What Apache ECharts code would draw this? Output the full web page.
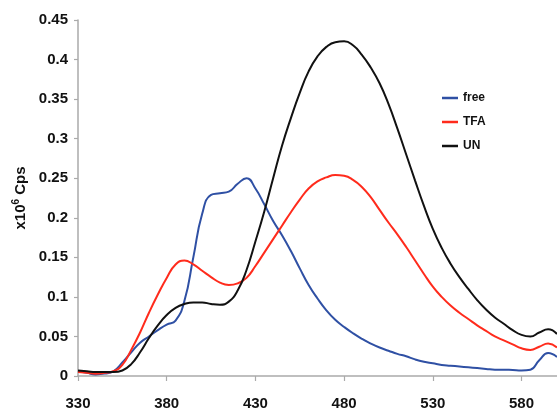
<!DOCTYPE html>
<html>
<head>
<meta charset="utf-8">
<script src="https://cdn.jsdelivr.net/npm/echarts@6/dist/echarts.min.js"></script>
<style>
  html, body { margin: 0; padding: 0; background: #ffffff; }
  #chart { width: 557px; height: 411px; }
</style>
</head>
<body>
<div id="chart"></div>
<script>
// Emission spectra, wavelength in nm, intensity in 10^6 counts per second
const wavelength = [330, 335, 340, 345, 350, 355, 360, 365, 370, 375, 380, 385, 390, 395, 400,
  405, 410, 415, 420, 425, 430, 435, 440, 445, 450, 455, 460, 465, 470, 475, 480, 485, 490,
  495, 500, 505, 510, 515, 520, 525, 530, 535, 540, 545, 550, 555, 560, 565, 570, 575, 580,
  585, 590, 595, 600];

const freeValues = [0.006, 0.004, 0.002, 0.003, 0.006, 0.017, 0.030, 0.042, 0.050, 0.058,
  0.065, 0.070, 0.095, 0.150, 0.205, 0.229, 0.231, 0.233, 0.243, 0.250, 0.237, 0.217, 0.196,
  0.178, 0.158, 0.136, 0.115, 0.098, 0.083, 0.071, 0.062, 0.054, 0.047, 0.041, 0.036, 0.032,
  0.028, 0.025, 0.021, 0.018, 0.016, 0.014, 0.013, 0.012, 0.011, 0.010, 0.009, 0.008, 0.008,
  0.0075, 0.007, 0.008, 0.020, 0.029, 0.024];

const tfaValues = [0.005, 0.004, 0.003, 0.004, 0.006, 0.014, 0.033, 0.055, 0.080, 0.103,
  0.124, 0.141, 0.146, 0.141, 0.133, 0.125, 0.118, 0.115, 0.117, 0.124, 0.139, 0.156, 0.173,
  0.190, 0.207, 0.223, 0.237, 0.246, 0.251, 0.254, 0.253, 0.248, 0.239, 0.226, 0.210, 0.194,
  0.179, 0.163, 0.146, 0.129, 0.113, 0.100, 0.089, 0.080, 0.072, 0.064, 0.057, 0.050, 0.045,
  0.040, 0.035, 0.033, 0.037, 0.041, 0.036];

const unValues = [0.007, 0.006, 0.005, 0.005, 0.005, 0.007, 0.015, 0.030, 0.048, 0.064,
  0.077, 0.086, 0.091, 0.093, 0.093, 0.091, 0.090, 0.094, 0.108, 0.134, 0.170, 0.208, 0.250,
  0.291, 0.326, 0.358, 0.385, 0.404, 0.416, 0.422, 0.423, 0.418, 0.406, 0.390, 0.370, 0.344,
  0.313, 0.280, 0.247, 0.215, 0.186, 0.162, 0.142, 0.125, 0.110, 0.096, 0.084, 0.074, 0.066,
  0.058, 0.052, 0.050, 0.055, 0.059, 0.053];

const seriesNames = ['free', 'TFA', 'UN'];
const seriesColors = ['#2f50a4', '#ff2b1c', '#111111'];
const seriesValues = [freeValues, tfaValues, unValues];

const FONT = '"Liberation Sans", Arial, sans-serif';

const chart = echarts.init(document.getElementById('chart'), null, { renderer: 'canvas' });

chart.setOption({
  backgroundColor: '#ffffff',
  animation: false,
  grid: { left: 78, right: 0, top: 20, bottom: 33, containLabel: false },
  legend: {
    orient: 'vertical',
    left: 437,
    top: 86,
    icon: 'rect',
    itemWidth: 16,
    itemHeight: 2.5,
    itemGap: 10,
    data: seriesNames,
    textStyle: { fontFamily: FONT, fontWeight: 'bold', fontSize: 12, color: '#111', lineHeight: 14 }
  },
  xAxis: {
    type: 'value',
    min: 330,
    max: 600,
    interval: 50,
    splitLine: { show: false },
    axisLine: { lineStyle: { color: '#aaaaaa', width: 1.5 } },
    axisTick: { length: 5, lineStyle: { color: '#aaaaaa', width: 1.2 } },
    axisLabel: {
      showMaxLabel: false,
      margin: 20,
      fontFamily: FONT, fontWeight: 'bold', fontSize: 15, color: '#111'
    }
  },
  yAxis: {
    type: 'value',
    min: 0,
    max: 0.45,
    interval: 0.05,
    name: '{a|x10}{s|6}{a| Cps}',
    nameLocation: 'middle',
    nameGap: 48,
    nameRotate: 90,
    nameTextStyle: {
      rich: {
        a: { fontFamily: FONT, fontWeight: 'bold', fontSize: 15, color: '#111' },
        s: { fontFamily: FONT, fontWeight: 'bold', fontSize: 10, color: '#111', verticalAlign: 'top', padding: [0, 0, 8, 0] }
      }
    },
    splitLine: { show: false },
    axisLine: { show: true, lineStyle: { color: '#aaaaaa', width: 1.5 } },
    axisTick: { show: true, length: 4, lineStyle: { color: '#aaaaaa', width: 1.2 } },
    axisLabel: {
      margin: 10,
      fontFamily: FONT, fontWeight: 'bold', fontSize: 15, color: '#111',
      formatter: v => String(+v.toFixed(2))
    }
  },
  series: seriesNames.map((name, i) => ({
    name: name,
    type: 'line',
    smooth: 0.5,
    showSymbol: false,
    symbol: 'none',
    color: seriesColors[i],
    lineStyle: { color: seriesColors[i], width: 2 },
    data: wavelength.map((x, j) => [x, seriesValues[i][j]])
  }))
});
</script>
</body>
</html>
